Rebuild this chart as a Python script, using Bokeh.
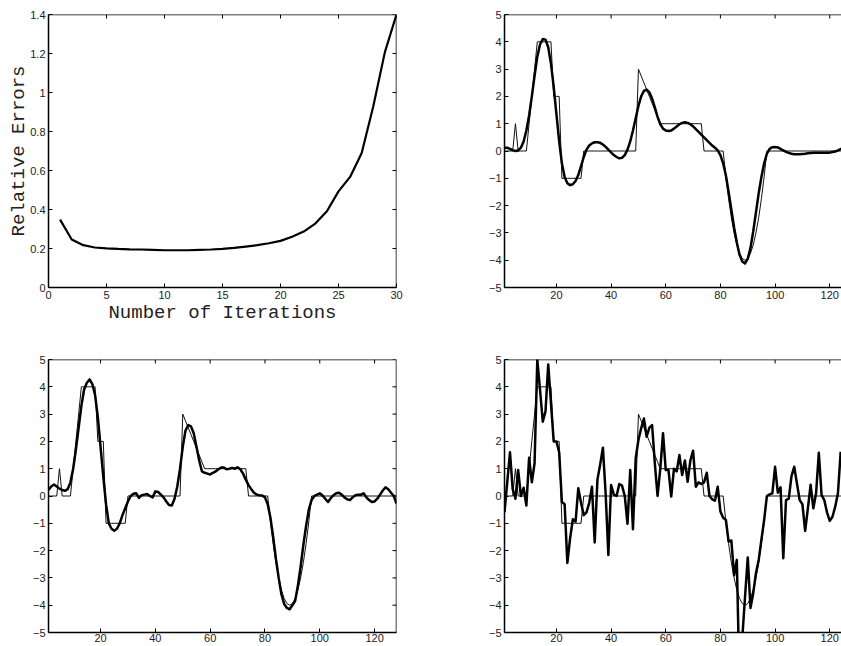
from bokeh.plotting import figure
from bokeh.models import LinearAxis, FixedTicker, Range1d, Span
from bokeh.layouts import row, column
from bokeh.embed import file_html
from bokeh.resources import INLINE

# ---------------- data ----------------
iterations = list(range(1, 31))
relative_errors = [0.348, 0.246, 0.217, 0.205, 0.201, 0.198, 0.196, 0.195, 0.193, 0.191,
                   0.191, 0.191, 0.193, 0.195, 0.198, 0.203, 0.210, 0.217, 0.227, 0.239,
                   0.260, 0.287, 0.328, 0.391, 0.493, 0.567, 0.690, 0.929, 1.207, 1.400]

sample_index = list(range(1, 129))

true_signal = ([0, 0, 0, 0, 1, 0, 0, 0, 0, 1, 2, 3, 4, 4, 4, 4, 4, 4, 2, 2, 2]
               + [-1] * 8
               + [0] * 20
               + [3, 2.75, 2.5, 2.25, 2, 1.75, 1.5, 1.25]
               + [1] * 16
               + [0] * 8
               + [-0.94, -1.75, -2.44, -3.0, -3.44, -3.75, -3.94, -4.0,
                  -3.94, -3.75, -3.44, -3.0, -2.44, -1.75, -0.94]
               + [0] * 32)

recon_smooth = [0.12, 0.12, 0.08, 0.03, 0.00, 0.02, 0.12, 0.35, 0.75, 1.30,
                2.00, 2.75, 3.45, 3.90, 4.10, 4.08, 3.80, 3.20, 2.35, 1.35,
                0.35, -0.45, -0.95, -1.18, -1.25, -1.22, -1.10, -0.88, -0.55, -0.22,
                0.05, 0.20, 0.28, 0.32, 0.32, 0.30, 0.24, 0.15, 0.05, -0.05,
                -0.15, -0.22, -0.27, -0.25, -0.15, 0.05, 0.35, 0.75, 1.20, 1.65,
                2.00, 2.20, 2.25, 2.15, 1.92, 1.60, 1.25, 0.98, 0.82, 0.75,
                0.73, 0.75, 0.82, 0.90, 0.98, 1.03, 1.05, 1.03, 0.98, 0.90,
                0.80, 0.70, 0.60, 0.50, 0.40, 0.30, 0.20, 0.12, 0.02, -0.15,
                -0.45, -0.90, -1.50, -2.15, -2.80, -3.35, -3.80, -4.05, -4.12, -3.95,
                -3.55, -2.95, -2.25, -1.55, -0.95, -0.45, -0.10, 0.08, 0.14, 0.15,
                0.13, 0.08, 0.02, -0.03, -0.07, -0.10, -0.12, -0.12, -0.12, -0.11,
                -0.10, -0.08, -0.07, -0.06, -0.06, -0.06, -0.06, -0.06, -0.06, -0.06,
                -0.04, -0.02, 0.02, 0.07, 0.12, 0.15, 0.17, 0.18]

recon_mild = [0.22, 0.35, 0.42, 0.35, 0.27, 0.22, 0.19, 0.25, 0.50, 1.00,
              1.70, 2.50, 3.30, 3.90, 4.15, 4.27, 4.10, 3.70, 2.90, 1.80,
              0.70, -0.30, -1.00, -1.20, -1.27, -1.20, -1.00, -0.70, -0.45, -0.20,
              0.00, 0.08, 0.10, -0.07, 0.03, 0.05, 0.07, 0.00, -0.05, 0.17,
              0.15, 0.05, -0.05, -0.20, -0.33, -0.35, -0.10, 0.35, 1.00, 1.80,
              2.40, 2.60, 2.55, 2.30, 1.80, 1.30, 0.90, 0.85, 0.82, 0.79,
              0.85, 0.90, 0.98, 1.04, 1.04, 0.98, 1.00, 1.03, 1.00, 1.05,
              0.98, 0.82, 0.60, 0.40, 0.25, 0.12, 0.05, 0.03, 0.02, -0.05,
              -0.30, -0.80, -1.50, -2.30, -3.00, -3.60, -3.95, -4.10, -4.15, -4.00,
              -3.85, -3.30, -2.60, -1.80, -1.10, -0.50, -0.15, 0.00, 0.05, 0.10,
              0.02, -0.10, -0.22, -0.08, 0.03, 0.10, 0.12, 0.05, -0.05, -0.12,
              -0.15, -0.05, 0.03, 0.05, 0.05, 0.10, -0.05, -0.15, -0.22, -0.20,
              -0.10, 0.05, 0.20, 0.32, 0.25, 0.12, 0.00, -0.28]

recon_noisy = [-0.60, 0.50, 1.60, 0.25, -0.10, 0.95, 0.00, 0.30, -0.35, 1.40,
               0.50, 1.20, 5.00, 3.90, 2.72, 3.10, 4.82, 3.40, 2.00, 2.00,
               1.60, -0.22, -0.30, -2.45, -1.55, -0.85, -0.94, 0.28, -0.25, -0.70,
               -0.60, -0.25, 0.34, -1.70, 0.60, 1.15, 1.77, 0.10, -2.16, 0.40,
               0.05, 0.00, 0.44, 0.38, 0.00, -1.02, 0.95, -1.22, 1.38, 2.05,
               2.48, 2.84, 2.17, 2.50, 2.60, 1.20, 0.00, 1.00, 2.30, 0.95,
               0.95, -0.02, 1.00, 0.90, 1.50, 0.77, 1.30, 0.52, 1.30, 1.66,
               0.34, 0.50, 0.44, 0.50, 0.85, 0.00, -0.12, -0.17, 0.34, -0.57,
               -0.80, -0.88, -1.67, -1.63, -2.90, -2.34, -7.00, -5.20, -3.70, -2.25,
               -4.10, -3.56, -2.83, -2.34, -1.60, -0.88, 0.00, 0.06, 0.10, 1.07,
               0.12, 0.32, -2.28, -0.15, -0.10, 0.73, 1.07, 0.46, -0.15, -0.30,
               -1.28, -0.45, 0.41, -0.45, 0.10, 1.58, 0.04, -0.15, -0.60, -0.91,
               -0.76, -0.39, 0.10, 1.62]

err_yticks = [0, 0.2, 0.4, 0.6, 0.8, 1.0, 1.2, 1.4]
err_ylabels = ["0", "0.2", "0.4", "0.6", "0.8", "1", "1.2", "1.4"]
err_xticks = [0, 5, 10, 15, 20, 25, 30]
sig_yticks = [-5, -4, -3, -2, -1, 0, 1, 2, 3, 4, 5]
sig_ylabels = ["\u22125", "\u22124", "\u22123", "\u22122", "\u22121", "0", "1", "2", "3", "4", "5"]
sig_xticks = [20, 40, 60, 80, 100, 120]

TICK_FONT = "Liberation Sans"
LABEL_FONT = "Liberation Mono"
FRAME_W = 1.5
TICK_LEN = 4


def add_axis(p, side, ticks, labels=None, standoff=3):
    ax = LinearAxis(ticker=FixedTicker(ticks=ticks))
    ax.axis_line_width = FRAME_W
    ax.axis_line_color = "black"
    ax.major_tick_in = TICK_LEN
    ax.major_tick_out = 0
    ax.major_tick_line_color = "black"
    ax.major_tick_line_width = 1
    ax.minor_tick_line_color = None
    ax.major_label_text_font = TICK_FONT
    ax.major_label_text_color = "#222222"
    ax.major_label_text_font_size = "11px"
    ax.major_label_standoff = standoff
    if labels is not None:
        ax.major_label_overrides = {t: l for t, l in zip(ticks, labels)}
    p.add_layout(ax, side)
    return ax


def add_top_border(p, xticks, ytop):
    p.add_layout(Span(location=ytop, dimension="width", line_color="black",
                      line_width=FRAME_W))
    p.ray(x=xticks, y=[ytop] * len(xticks), length=TICK_LEN, length_units="screen",
          angle=-90, angle_units="deg", line_color="black", line_width=1)


def add_right_border(p, yticks, xright):
    p.add_layout(Span(location=xright, dimension="height", line_color="black",
                      line_width=FRAME_W))
    p.ray(x=[xright] * len(yticks), y=yticks, length=TICK_LEN, length_units="screen",
          angle=180, angle_units="deg", line_color="black", line_width=1)


def make_fig(width, height, xr, yr, left, right, top, bottom):
    p = figure(width=width, height=height, x_range=Range1d(*xr), y_range=Range1d(*yr),
               output_backend="svg", toolbar_location=None,
               x_axis_location=None, y_axis_location=None,
               min_border_left=left, min_border_right=right,
               min_border_top=top, min_border_bottom=bottom)
    p.outline_line_color = None
    p.grid.visible = False
    p.background_fill_color = "white"
    p.border_fill_color = "white"
    return p


# ---------------- top-left: relative errors ----------------
p1 = make_fig(406, 330, (0, 30), (0, 1.4), 48, 10, 14, 43)
p1.line(iterations, relative_errors, line_color="black", line_width=2.2)
bx = add_axis(p1, "below", err_xticks)
bx.axis_label = "Number of Iterations"
bx.axis_label_text_font = LABEL_FONT
bx.axis_label_text_font_size = "19px"
bx.axis_label_text_font_style = "normal"
bx.axis_label_text_color = "#222222"
bx.axis_label_standoff = 0
ly = add_axis(p1, "left", err_yticks, err_ylabels)
ly.axis_label = "Relative Errors"
ly.axis_label_text_font = LABEL_FONT
ly.axis_label_text_font_size = "19px"
ly.axis_label_text_font_style = "normal"
ly.axis_label_text_color = "#222222"
ly.axis_label_standoff = -3
add_top_border(p1, err_xticks, 1.4)
add_right_border(p1, err_yticks, 30)


def signal_fig(width, height, xr, left, right, top, bottom, recon, with_right, standoff):
    p = make_fig(width, height, xr, (-5, 5), left, right, top, bottom)
    n = len(recon)
    p.line(sample_index, true_signal, line_color="#111111", line_width=1)
    p.line(sample_index[:n], recon, line_color="black", line_width=2.5,
           line_join="round")
    add_axis(p, "below", sig_xticks, standoff=standoff)
    add_axis(p, "left", sig_yticks, sig_ylabels)
    add_top_border(p, sig_xticks, 5)
    if with_right:
        add_right_border(p, sig_yticks, xr[1])
    return p


p2 = signal_fig(435, 330, (1, 124.3), 98, 0, 14, 43, recon_smooth, False, 3)
p3 = signal_fig(406, 316, (1, 128), 48, 10, 29, 14, recon_mild, True, 1)
p4 = signal_fig(435, 316, (1, 124.3), 98, 0, 29, 14, recon_noisy, False, 1)

layout = column(row(p1, p2), row(p3, p4))

open("out.html", "w").write(file_html(layout, INLINE))
